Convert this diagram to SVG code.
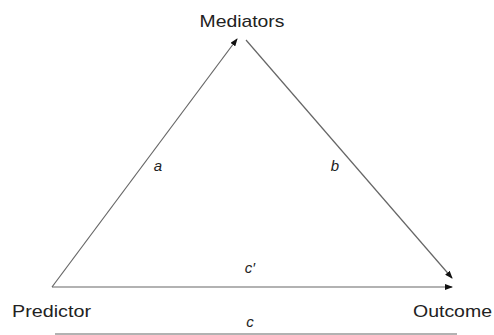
<svg xmlns="http://www.w3.org/2000/svg" width="494" height="335" viewBox="0 0 494 335">
<defs>
<style>
.lbl{font-family:"Liberation Sans",Arial,sans-serif;font-size:17px;fill:#222}
.it{font-family:"Liberation Sans",Arial,sans-serif;font-size:15px;font-style:italic;fill:#222}
.ln{stroke:#666;stroke-width:1.2;fill:none}
</style>
<marker id="arr" markerWidth="8" markerHeight="6" refX="7" refY="3" orient="auto" markerUnits="userSpaceOnUse">
<path d="M0,0 L8,3 L0,6 z" fill="#111"/>
</marker>
</defs>
<rect width="494" height="335" fill="#fff"/>
<g id="connectors">
<line class="ln" x1="52" y1="287" x2="237" y2="39" marker-end="url(#arr)"/>
<line class="ln" x1="246" y1="40" x2="452" y2="278" marker-end="url(#arr)"/>
<line class="ln" x1="52" y1="287" x2="452" y2="287" marker-end="url(#arr)"/>
<line class="ln" x1="55" y1="334" x2="457" y2="334"/>
<text class="it" x="158" y="171" text-anchor="middle">a</text>
<text class="it" x="335" y="171" text-anchor="middle">b</text>
<text class="it" x="250" y="273" text-anchor="middle">c′</text>
<text class="it" x="250" y="327" text-anchor="middle">c</text>
</g>
<g id="mediators"><text class="lbl" x="242" y="27" text-anchor="middle" textLength="85" lengthAdjust="spacingAndGlyphs">Mediators</text></g>
<g id="predictor"><text class="lbl" x="12" y="317" textLength="79" lengthAdjust="spacingAndGlyphs">Predictor</text></g>
<g id="outcome"><text class="lbl" x="413" y="317" textLength="79" lengthAdjust="spacingAndGlyphs">Outcome</text></g>
</svg>
